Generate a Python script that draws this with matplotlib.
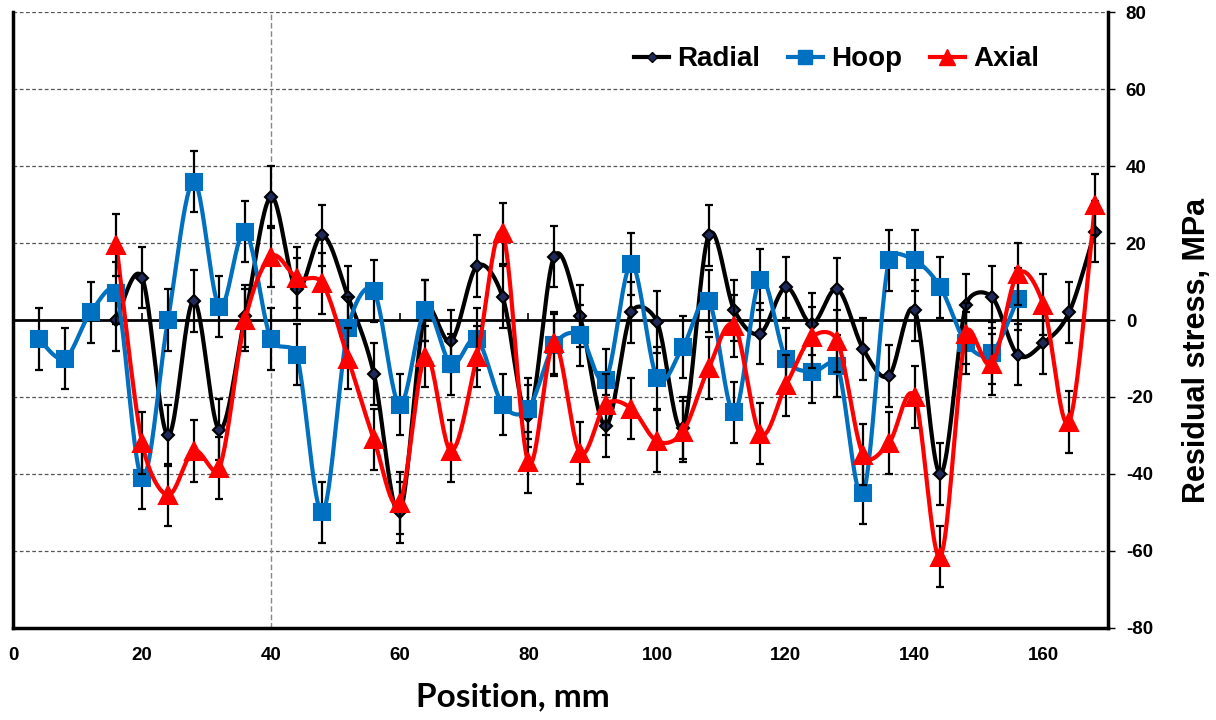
import numpy as np
import matplotlib
matplotlib.use('Agg')
import matplotlib.pyplot as plt
from matplotlib.lines import Line2D

# Positions (mm) and residual stress (MPa)
radial_x = [16, 20, 24, 28, 32, 36, 40, 44, 48, 52, 56, 60, 64, 68, 72, 76, 80, 84, 88, 92,
            96, 100, 104, 108, 112, 116, 120, 124, 128, 132, 136, 140, 144, 148, 152, 156,
            160, 164, 168]
radial_y = [0, 11, -30, 5, -28.5, 1, 32, 8, 22, 6, -14, -50, 2.5, -5.5, 14, 6, -25, 16.5, 1,
            -27.5, 2, -0.5, -28, 22, 2.5, -3.5, 8.5, -1, 8, -7.5, -14.5, 2.5, -40, 4, 6, -9,
            -6, 2, 23]

hoop_x = [4, 8, 12, 16, 20, 24, 28, 32, 36, 40, 44, 48, 52, 56, 60, 64, 68, 72, 76, 80, 84,
          88, 92, 96, 100, 104, 108, 112, 116, 120, 124, 128, 132, 136, 140, 144, 148, 152, 156]
hoop_y = [-5, -10, 2, 7, -41, 0, 36, 3.5, 23, -5, -9, -50, -2, 7.5, -22, 2.5, -11.5, -5, -22,
          -23, -6.5, -4, -15.5, 14.5, -15, -7, 5, -24, 10.5, -10, -13.5, -12, -45, 15.5, 15.5,
          8.5, -6, -8.5, 5.5]

axial_x = [16, 20, 24, 28, 32, 36, 40, 44, 48, 52, 56, 60, 64, 68, 72, 76, 80, 84, 88, 92,
           96, 100, 104, 108, 112, 116, 120, 124, 128, 132, 136, 140, 144, 148, 152, 156,
           160, 164, 168]
axial_y = [19.5, -32, -45.5, -34, -38.5, 0, 16.5, 11, 9.5, -10, -31, -47.5, -9.5, -34, -9.5,
           22.5, -37, -6, -34.5, -22, -23, -31.5, -29, -12.5, -1.5, -29.5, -17, -4.5, -5.5,
           -35, -32, -20, -61.5, -3.5, -11.5, 12, 4, -26.5, 30]

radial_err = 8
hoop_err = 8
axial_err = 8

x_ticks = [0, 20, 40, 60, 80, 100, 120, 140, 160]
y_ticks = [-80, -60, -40, -20, 0, 20, 40, 60, 80]

XMAX = 170
YMIN, YMAX = -80, 80


def smooth(xs, ys, sx, sy, n=24):
    """Excel-like smoothed line: cubic Bezier with clamped control points (screen space)"""
    p = np.column_stack([np.asarray(xs, float) * sx, np.asarray(ys, float) * sy])
    p = np.vstack([p[0], p, p[-1]])
    t = np.linspace(0, 1, n, endpoint=False)[:, None]
    out = []
    for i in range(1, len(p) - 2):
        p0, p1, p2, p3 = p[i - 1], p[i], p[i + 1], p[i + 2]
        half = np.linalg.norm(p2 - p1) / 2
        t1 = (p2 - p0) / 6
        t2 = (p3 - p1) / 6
        if np.linalg.norm(t1) > half:
            t1 = t1 / np.linalg.norm(t1) * half
        if np.linalg.norm(t2) > half:
            t2 = t2 / np.linalg.norm(t2) * half
        c1 = p1 + t1
        c2 = p2 - t2
        seg = (1 - t) ** 3 * p1 + 3 * (1 - t) ** 2 * t * c1 + 3 * (1 - t) * t ** 2 * c2 + t ** 3 * p2
        out.append(seg)
    out.append(p[-2][None, :])
    out = np.vstack(out)
    return out[:, 0] / sx, out[:, 1] / sy


plt.rcParams['axes.unicode_minus'] = False

fig = plt.figure(figsize=(12.16, 7.2), dpi=100)
ax = fig.add_axes([0.011, 0.128, 0.900, 0.855])

# pixel scale of the axes for the smoothing
bbox = ax.get_position()
px_x = bbox.width * 1216 / XMAX
px_y = bbox.height * 720 / (YMAX - YMIN)

series = [
    (radial_x, radial_y, radial_err, 'black', 'D', 6.5, 3.0, 'Radial'),
    (hoop_x, hoop_y, hoop_err, '#0070C0', 's', 11.5, 3.0, 'Hoop'),
    (axial_x, axial_y, axial_err, '#FF0000', '^', 13, 3.0, 'Axial'),
]

handles = []
for k, (xs, ys, err, col, mk, ms, lw, name) in enumerate(series):
    sxs, sys_ = smooth(xs, ys, px_x, px_y)
    z = 3 + 3 * k
    ax.plot(sxs, sys_, color=col, lw=lw, zorder=z, solid_capstyle='round')
    ax.errorbar(xs, ys, yerr=err, fmt='none', ecolor='black', elinewidth=1.6,
                capsize=2.8, capthick=1.6, zorder=z + 1)
    mfc = '#1F2A5A' if name == 'Radial' else col
    ax.plot(xs, ys, ls='none', marker=mk, ms=ms, color=col, mfc=mfc, mec=col,
            mew=1.5, zorder=z + 2)
    handles.append(Line2D([], [], color=col, lw=lw, marker=mk, ms=ms * 0.85,
                          mfc=mfc, mec=col, label=name))

# grid lines
for yv in y_ticks:
    if yv in (0, YMIN):
        continue
    ax.axhline(yv, color='#555555', lw=0.9, ls=(0, (3, 2)), zorder=1)
ax.axvline(40, color='#888888', lw=1.0, ls=(0, (4, 2)), zorder=1)

# zero line with small tick marks
ax.axhline(0, color='black', lw=2, zorder=2)
ax.vlines(x_ticks[1:], 0, 1.8, color='black', lw=1.2, zorder=2)

ax.set_xlim(0, XMAX)
ax.set_ylim(YMIN, YMAX)
ax.set_xticks(x_ticks)
ax.set_yticks(y_ticks)

ax.yaxis.tick_right()
ax.yaxis.set_label_position('right')
ax.tick_params(axis='y', direction='out', length=5, width=1.0, pad=8)
ax.tick_params(axis='x', length=0, pad=14)
for lab in ax.get_xticklabels() + ax.get_yticklabels():
    lab.set_fontfamily('Liberation Sans')
    lab.set_fontweight('bold')
    lab.set_fontsize(13.5)

ax.spines['top'].set_visible(False)
for s in ['left', 'right', 'bottom']:
    ax.spines[s].set_linewidth(2.5)

ax.set_xlabel('Position, mm', fontsize=24, fontweight='bold', family='Lato')
ax.xaxis.set_label_coords(0.456, -0.089)
ax.set_ylabel('Residual stress, MPa', fontsize=22, fontweight='bold',
              family='Liberation Sans')
ax.yaxis.set_label_coords(1.0676, 0.451)

ax.legend(handles=handles, loc='upper right', bbox_to_anchor=(0.96, 0.985), ncol=3,
          frameon=False, handlelength=1.25, columnspacing=1.0, handletextpad=0.3,
          prop={'family': 'Liberation Sans', 'weight': 'bold', 'size': 20})

fig.savefig('out.png', dpi=100)
